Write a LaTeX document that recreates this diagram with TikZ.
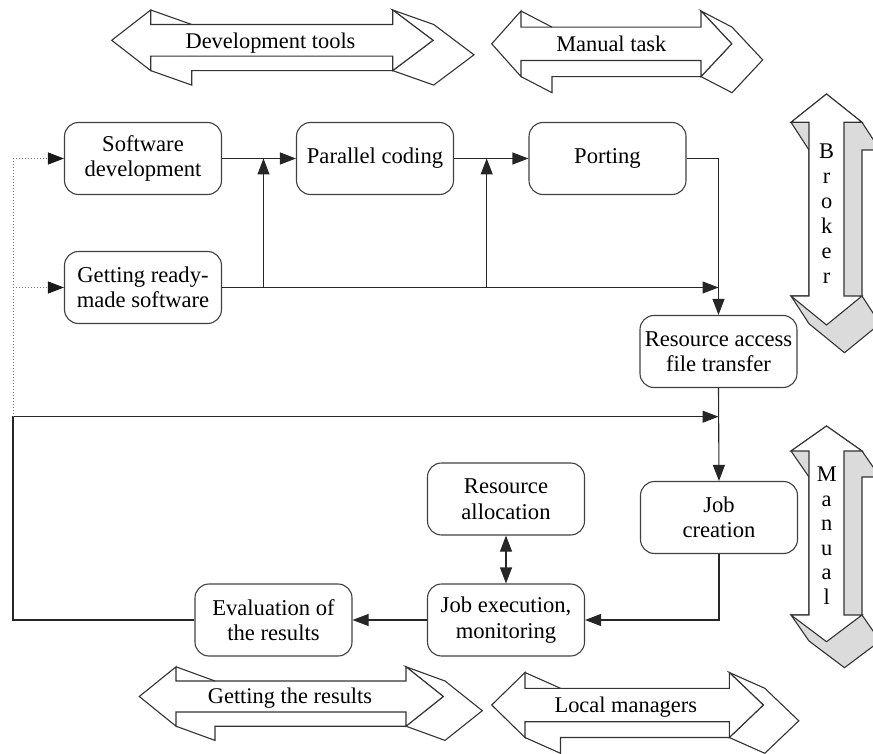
\documentclass[tikz,border=0pt]{standalone}
\usepackage{fontspec}
\setmainfont{Liberation Serif}
\usetikzlibrary{arrows.meta}

% horizontal 3D double arrow: #1 L, #2 A, #3 B, #4 R, #5 C, #6 H, #7 S, #8 dx
\newcommand{\HArr}[8]{%
  \pgfmathsetmacro\hdy{#6-#7}%
  \draw[solid3d] (#3,{#5-#6}) -- ({#3+#8},{#5-#6+\hdy}) -- ({#4+#8},{#5+\hdy})
     -- ({#3+#8},{#5+#6+\hdy}) -- (#3,{#5+#6}) -- (#4,#5) -- cycle;
  \draw[solid3d] (#2,{#5+#6}) -- ({#2+#8},{#5+#6+\hdy}) -- ({#2+#8},{#5+#7+\hdy}) -- (#3,{#5+#7+\hdy});
  \draw[solid3d] (#1,#5) -- (#2,{#5-#6}) -- (#2,{#5-#7}) -- (#3,{#5-#7}) -- (#3,{#5-#6})
     -- (#4,#5) -- (#3,{#5+#6}) -- (#3,{#5+#7}) -- (#2,{#5+#7}) -- (#2,{#5+#6}) -- cycle;
  \draw[solid3d] (#2,{#5-#6}) -- ({#2+#8},{#5-#7});
}
% vertical 3D double arrow: #1 X, #2 W, #3 S, #4 T, #5 Hb1, #6 Hb2, #7 Bt, #8 dy
\newcommand{\VArr}[8]{%
  \pgfmathsetmacro\vdx{#2-#3}%
  \draw[gray3d] (#1,#4) -- ({#1+#2},#5) -- ({#1+#2+\vdx},{#5+#8}) -- ({#1+#2},{#5+#8})
     -- ({#1+#2},#6) -- ({#1+#2+\vdx},{#6+#8}) -- ({#1+\vdx},{#7+#8}) -- ({#1-#3},{#6+#8})
     -- ({#1-#2},#6) -- ({#1-#3},#6) -- ({#1-#3},{#5+#8}) -- ({#1-#2},#5) -- cycle;
  \draw[solid3d] (#1,#4) -- ({#1+#2},#5) -- ({#1+#3},#5) -- ({#1+#3},#6) -- ({#1+#2},#6)
     -- (#1,#7) -- ({#1-#2},#6) -- ({#1-#3},#6) -- ({#1-#3},#5) -- ({#1-#2},#5) -- cycle;
}

\begin{document}
\begin{tikzpicture}[x=1pt,y=-1pt,
  box/.style={draw=black!75, line width=1.1pt, rounded corners=14pt,
    minimum width=157pt, minimum height=72pt, align=center, inner sep=2pt,
    font=\fontsize{22.6}{25.5}\selectfont},
  lbl/.style={inner sep=0pt, font=\fontsize{22.4}{25}\selectfont},
  conn/.style={draw=black!85, line width=1.1pt},
  arr/.style={conn, -{Triangle[length=16pt,width=12pt]}},
  dotline/.style={draw=black!55, line width=1pt, dotted},
  solid3d/.style={draw=black!80, line width=1.1pt, line join=miter, fill=white},
  gray3d/.style={draw=black!80, line width=1.1pt, line join=miter, fill=black!14}
]
\useasboundingbox (0,0) rectangle (873,754);

% 3D arrows
\HArr{111.7}{150.7}{392.7}{433}{40.3}{30.3}{15.8}{41}
\node[lbl, anchor=base] (lblDev) at (270.5,48.3) {Development tools};
\HArr{491.7}{521}{701}{731.7}{43.8}{32.8}{16.7}{31}
\node[lbl, anchor=base] (lblMan) at (611.3,51.7) {Manual task};
\HArr{139.3}{176}{406}{443.3}{696.5}{29.7}{15.5}{39}
\node[lbl, anchor=base] (lblRes) at (290,703.3) {Getting the results};
\HArr{491.7}{525}{729.3}{763.3}{705}{32.5}{16.7}{35.5}
\node[lbl, anchor=base] (lblLoc) at (625.8,712.7) {Local managers};
\VArr{826.5}{35.5}{17.5}{94}{122.3}{296}{325}{27.7}
\node[lbl, align=center, font=\fontsize{22.4}{25}\selectfont] (lblBro) at (826.7,213.4) {B\\r\\o\\k\\e\\r};
\VArr{826.5}{35.5}{17.5}{426}{451}{615}{641.7}{26}
\node[lbl, align=center, font=\fontsize{22.4}{24.5}\selectfont] (lblMnl) at (826.7,535.5) {M\\a\\n\\u\\a\\l};

% boxes
\node[box] (sd) at (143,158.5) {Software\\development};
\node[box] (gr) at (143,287.5) {Getting ready-\\made software};
\node[box] (pc) at (375,158.5) {Parallel coding};
\node[box] (po) at (607.5,158.5) {Porting};
\node[box] (ra) at (718.5,351.5) {Resource access\\file transfer};
\node[box] (jc) at (719,517.5) {Job\\creation};
\node[box] (ral) at (506,499) {Resource\\allocation};
\node[box] (je) at (506,620) {Job execution,\\monitoring};
\node[box] (ev) at (273.5,620) {Evaluation of\\the results};

% junction coordinates
\coordinate (colR) at (718.5,158.5);
\coordinate (m1) at (718.5,287.5);
\coordinate (m2) at (718.5,416.7);
\coordinate (loopL) at (13,416.7);
\coordinate (loopB) at (13,620);
\coordinate (jcB) at (719,620);
\coordinate (b1) at (263.5,287.5);
\coordinate (t1) at (263.5,158.5);
\coordinate (b2) at (486.7,287.5);
\coordinate (t2) at (486.7,158.5);
\coordinate (dTop) at (13,158.5);
\coordinate (dMid) at (13,287.5);

% connectors
\draw[arr] (sd.east) -- (pc.west);
\draw[arr] (pc.east) -- (po.west);
\draw[arr] (b1) -- (t1);
\draw[arr] (b2) -- (t2);
\draw[arr] (gr.east) -- (m1);
\draw[arr] (po.east) -- (colR) -- (ra.north);
\draw[arr] (ra.south) -- (jc.north);
\draw[arr] (jc.south) -- (jcB) -- (je.east);
\draw[arr] (je.west) -- (ev.east);
\draw[arr] (ev.west) -- (loopB) -- (loopL) -- (m2);
\draw[conn, {Triangle[length=16pt,width=12pt]}-{Triangle[length=16pt,width=12pt]}] (ral.south) -- (je.north);
\draw[dotline, -{Triangle[length=16pt,width=12pt,color=black!90]}] (loopL) -- (dTop) -- (sd.west);
\draw[dotline, -{Triangle[length=16pt,width=12pt,color=black!90]}] (dMid) -- (gr.west);
\end{tikzpicture}
\end{document}
